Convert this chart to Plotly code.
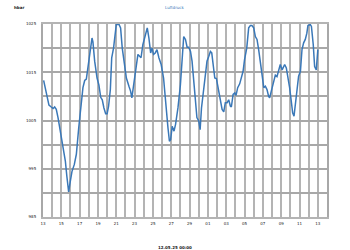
import plotly.graph_objects as go

# day offsets from 13th (x) and pressure in hPa (y)
days = [0.07, 0.36, 0.65, 0.9, 1.1, 1.27, 1.45, 1.64, 1.9, 2.2, 2.44, 2.6, 2.8, 2.98, 3.16, 3.42, 3.64, 3.9,
        4.15, 4.36, 4.55, 4.73, 4.9, 5.1, 5.35, 5.45, 5.64, 5.9, 6.1, 6.3, 6.47, 6.65, 6.84, 7.0, 7.16, 7.35,
        7.5, 7.7, 7.82, 8.0, 8.3, 8.47, 8.65, 8.87, 9.1, 9.38, 9.56, 9.7, 9.9, 10.1, 10.36, 10.55, 10.7, 10.9,
        11.16, 11.38, 11.56, 11.75, 11.9, 12.07, 12.25, 12.44, 12.65, 12.9, 13.16, 13.45, 13.64, 13.8, 13.93,
        14.1, 14.3, 14.47, 14.73, 15.0, 15.18, 15.36, 15.55, 15.73, 15.9, 16.1, 16.27, 16.45, 16.64, 16.8,
        17.0, 17.15, 17.3, 17.44, 17.65, 17.9, 18.1, 18.27, 18.42, 18.6, 18.75, 18.93, 19.1, 19.36, 19.55,
        19.73, 19.9, 20.1, 20.27, 20.45, 20.56, 20.75, 20.93, 21.07, 21.25, 21.47, 21.65, 21.84, 22.0, 22.24,
        22.45, 22.64, 22.8, 23.0, 23.18, 23.36, 23.54, 23.72, 23.9, 24.1, 24.27, 24.45, 24.63, 24.74, 24.92,
        25.18, 25.36, 25.54, 25.72, 25.9, 26.1, 26.23, 26.38, 26.56, 26.74, 26.92, 27.1, 27.25, 27.4, 27.54,
        27.72, 27.9, 28.1, 28.27, 28.45, 28.63, 28.8, 28.92, 29.17, 29.3, 29.5, 29.65, 29.83, 30.0]
pressure = [1013.3, 1010.4, 1008.2, 1007.8, 1007.5, 1007.8, 1007.3, 1005.6, 1002.8, 999.7, 996.6, 993.5, 990.2,
            992.4, 994.4, 995.9, 998.0, 1003.5, 1007.6, 1011.8, 1013.3, 1013.6, 1015.9, 1019.0, 1022.1, 1021.3,
            1017.3, 1013.8, 1012.4, 1009.8, 1009.3, 1007.6, 1006.4, 1006.4, 1008.0, 1011.4, 1018.0, 1020.0,
            1022.1, 1024.9, 1024.9, 1024.2, 1020.0, 1016.9, 1013.8, 1012.1, 1011.1, 1009.7, 1012.4, 1015.9,
            1018.7, 1018.3, 1018.0, 1020.7, 1022.8, 1024.2, 1022.1, 1019.0, 1020.0, 1018.7, 1019.0, 1019.7,
            1018.0, 1016.6, 1013.8, 1006.9, 1003.5, 1000.7, 1001.0, 1003.8, 1002.8, 1004.2, 1007.6, 1012.4,
            1016.6, 1022.4, 1021.8, 1020.2, 1020.2, 1019.3, 1017.3, 1013.8, 1009.0, 1005.6, 1004.9, 1003.1,
            1007.6, 1010.0, 1012.4, 1017.3, 1018.3, 1019.3, 1019.0, 1015.9, 1013.8, 1013.7, 1012.1, 1009.3,
            1007.3, 1006.8, 1008.7, 1008.7, 1009.3, 1008.0, 1007.8, 1010.4, 1010.7, 1010.2, 1011.8, 1012.6,
            1013.8, 1015.2, 1017.6, 1020.0, 1024.2, 1024.7, 1024.7, 1024.2, 1022.4, 1021.8, 1019.7, 1017.3,
            1014.5, 1011.8, 1012.1, 1011.4, 1010.0, 1009.7, 1011.1, 1012.8, 1014.4, 1014.1, 1015.2, 1016.6,
            1015.5, 1016.2, 1016.6, 1015.9, 1014.2, 1011.8, 1009.0, 1006.6, 1005.9, 1008.0, 1011.4, 1014.2,
            1015.2, 1019.7, 1021.1, 1021.8, 1023.1, 1024.7, 1024.9, 1024.5, 1020.7, 1016.2, 1015.5, 1019.7]

x_tick_vals = list(range(0, 32))
x_labels = ["13", "15", "17", "19", "21", "23", "25", "27", "29", "01", "03", "05", "07", "09", "11", "13"]
x_tick_text = [x_labels[i // 2] if i % 2 == 0 and i // 2 < len(x_labels) else "" for i in x_tick_vals]

y_tick_vals = [985, 990, 995, 1000, 1005, 1010, 1015, 1020, 1025]
y_tick_text = ["985", "", "995", "", "1005", "", "1015", "", "1025"]

fig = go.Figure()
fig.add_trace(go.Scatter(x=days, y=pressure, mode="lines",
                         line=dict(color="#3a78b8", width=1.5), hoverinfo="skip"))

fig.update_layout(
    width=350, height=250, autosize=False,
    margin=dict(l=43, r=23, t=24, b=33),
    paper_bgcolor="white", plot_bgcolor="white",
    showlegend=False,
    font=dict(family="DejaVu Sans", size=4, color="#222"),
    xaxis=dict(range=[0, 31], tickmode="array", tickvals=x_tick_vals, ticktext=x_tick_text,
               showgrid=True, gridcolor="#b4b4b4", gridwidth=1.5, zeroline=False,
               showline=True, linecolor="#b4b4b4", linewidth=1.5, mirror=True,
               ticks="", tickfont=dict(size=4, color="#222"), ticklabelstandoff=1),
    yaxis=dict(range=[985, 1025], tickmode="array", tickvals=y_tick_vals, ticktext=y_tick_text,
               showgrid=True, gridcolor="#a8a8a8", gridwidth=2, zeroline=False,
               showline=True, linecolor="#a8a8a8", linewidth=2, mirror=True,
               ticks="", tickfont=dict(size=4, color="#222"), ticklabelstandoff=4),
    annotations=[
        dict(text="<b>hbar</b>", x=12, y=3, xref="paper", yref="paper", showarrow=False,
             xanchor="left", yanchor="top", font=dict(size=4, color="#222")),
        dict(text="Luftdruck", x=175, y=3, showarrow=False, xanchor="center", yanchor="top",
             font=dict(size=4, color="#3a78b8")),
        dict(text="<b>12.05.25 00:00</b>", x=175, y=247, showarrow=False, xanchor="center",
             yanchor="middle", font=dict(size=4, color="#222")),
    ],
)
# place annotations in pixel-ish paper coordinates
W, H = 350, 250
pw, ph = W - 43 - 23, H - 24 - 33
for a in fig.layout.annotations:
    px, py = a.x, a.y
    a.xref = "paper"; a.yref = "paper"
    a.x = (px - 43) / pw
    a.y = 1 - (py - 24) / ph

fig.write_html("out.html")
